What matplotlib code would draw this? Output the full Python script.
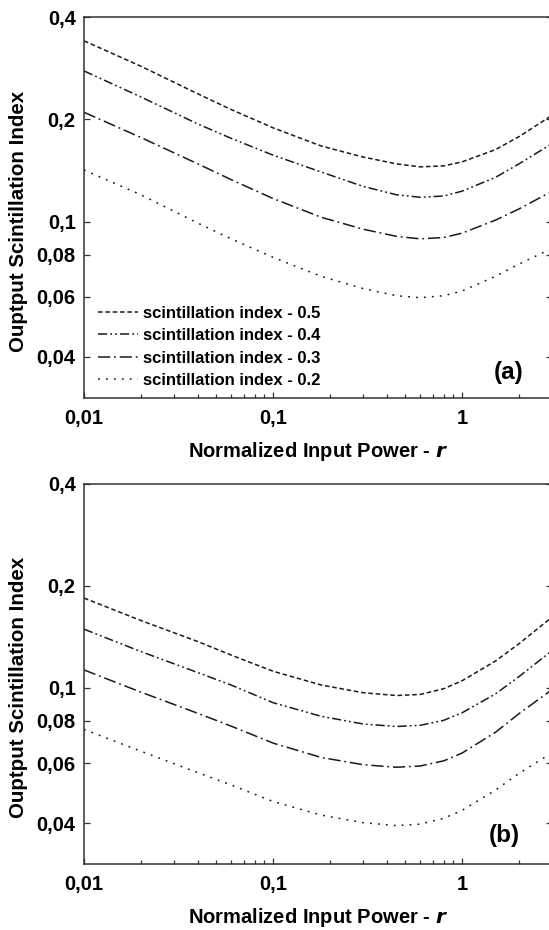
import matplotlib
matplotlib.use("Agg")
import matplotlib.pyplot as plt
from matplotlib.ticker import FixedLocator, FixedFormatter, NullFormatter

plt.rcParams['font.family'] = ['Liberation Sans', 'DejaVu Sans']
plt.rcParams['font.weight'] = 'bold'

# normalized input power (x) where values were read
r_vals = [0.01, 0.02, 0.04, 0.06, 0.1, 0.18, 0.3, 0.45, 0.6, 0.8, 1.0, 1.5, 2.0, 3.0]

# panel (a)
a_05 = [0.341, 0.287, 0.238, 0.214, 0.189, 0.167, 0.155, 0.148, 0.145, 0.146, 0.150, 0.163, 0.178, 0.206]
a_04 = [0.278, 0.233, 0.194, 0.176, 0.157, 0.140, 0.127, 0.120, 0.118, 0.119, 0.123, 0.135, 0.148, 0.170]
a_03 = [0.210, 0.177, 0.148, 0.133, 0.117, 0.103, 0.0950, 0.0905, 0.089, 0.0898, 0.0925, 0.101, 0.109, 0.123]
a_02 = [0.142, 0.120, 0.099, 0.089, 0.0785, 0.0690, 0.0635, 0.0605, 0.0597, 0.0605, 0.0625, 0.0690, 0.0750, 0.0835]

# panel (b)
b_05 = [0.184, 0.158, 0.137, 0.125, 0.112, 0.102, 0.0968, 0.0950, 0.0957, 0.0995, 0.105, 0.120, 0.135, 0.162]
b_04 = [0.149, 0.128, 0.111, 0.102, 0.0905, 0.0825, 0.0783, 0.0770, 0.0776, 0.0803, 0.0845, 0.096, 0.108, 0.129]
b_03 = [0.113, 0.0972, 0.0842, 0.0772, 0.0688, 0.0624, 0.0594, 0.0584, 0.0589, 0.0610, 0.0643, 0.074, 0.084, 0.099]
b_02 = [0.0755, 0.0651, 0.0563, 0.0518, 0.0463, 0.0422, 0.0401, 0.0393, 0.0397, 0.0413, 0.0436, 0.0500, 0.0560, 0.0645]

labels = ['scintillation index - 0.5', 'scintillation index - 0.4',
          'scintillation index - 0.3', 'scintillation index - 0.2']
dashes = [(3, 1.8), (6, 2, 1.2, 2, 1.2, 2), (8, 2.5, 1.2, 2.5), (1.2, 4)]

yticks = [0.04, 0.06, 0.08, 0.1, 0.2, 0.4]
ytick_labels = ['0,04', '0,06', '0,08', '0,1', '0,2', '0,4']
xticks = [0.01, 0.1, 1]
xtick_labels = ['0,01', '0,1', '1']

fig = plt.figure(figsize=(5.49, 9.30), dpi=100)
ax1 = fig.add_axes([0.153, 0.5724, 0.853, 0.409])
ax2 = fig.add_axes([0.153, 0.0710, 0.853, 0.409])

for ax, series, tag, tagpos in [
        (ax1, [a_05, a_04, a_03, a_02], '(a)', (0.907, 0.065)),
        (ax2, [b_05, b_04, b_03, b_02], '(b)', (0.897, 0.074))]:
    for y, d, lab in zip(series, dashes, labels):
        ax.plot(r_vals, y, color='#1a1a1a', lw=1.1, dashes=d, label=lab)
    ax.set_xscale('log')
    ax.set_yscale('log')
    ax.set_xlim(0.01, 3)
    ax.set_ylim(0.0303, 0.4)
    ax.yaxis.set_major_locator(FixedLocator(yticks))
    ax.yaxis.set_major_formatter(FixedFormatter(ytick_labels))
    ax.yaxis.set_minor_locator(FixedLocator([]))
    ax.xaxis.set_major_locator(FixedLocator(xticks))
    ax.xaxis.set_major_formatter(FixedFormatter(xtick_labels))
    ax.xaxis.set_minor_locator(FixedLocator(
        [k * 10.0 ** e for e in (-2, -1, 0) for k in range(2, 10) if k * 10.0 ** e < 3]))
    ax.xaxis.set_minor_formatter(NullFormatter())
    ax.tick_params(which='both', direction='in', right=True, top=False,
                   color='#333333', width=0.9)
    ax.tick_params(which='major', length=4.5, labelsize=14.5)
    ax.tick_params(which='minor', length=3)
    ax.tick_params(axis='x', pad=8)
    ax.tick_params(axis='y', pad=6)
    for s in ax.spines.values():
        s.set_color('#333333')
        s.set_linewidth(1.1)
    ax.set_ylabel('Ouptput Scintillation Index', fontsize=14.8, fontweight='bold')
    ax.yaxis.set_label_coords(-0.12, 0.464)
    ax.set_xlabel('Normalized Input Power - $\\mathbfit{r}$', fontsize=14.5, fontweight='bold')
    ax.xaxis.set_label_coords(0.5, -0.11)
    ax.text(tagpos[0], tagpos[1], tag, transform=ax.transAxes, fontsize=17.5,
            fontweight='bold', ha='center', va='center')

ax1.legend(loc='lower left', bbox_to_anchor=(0.03, 0.025), frameon=False,
           fontsize=12, handlelength=2.4, handletextpad=0.3, labelspacing=0.45,
           borderpad=0, borderaxespad=0)

fig.savefig('out.png', dpi=100)
